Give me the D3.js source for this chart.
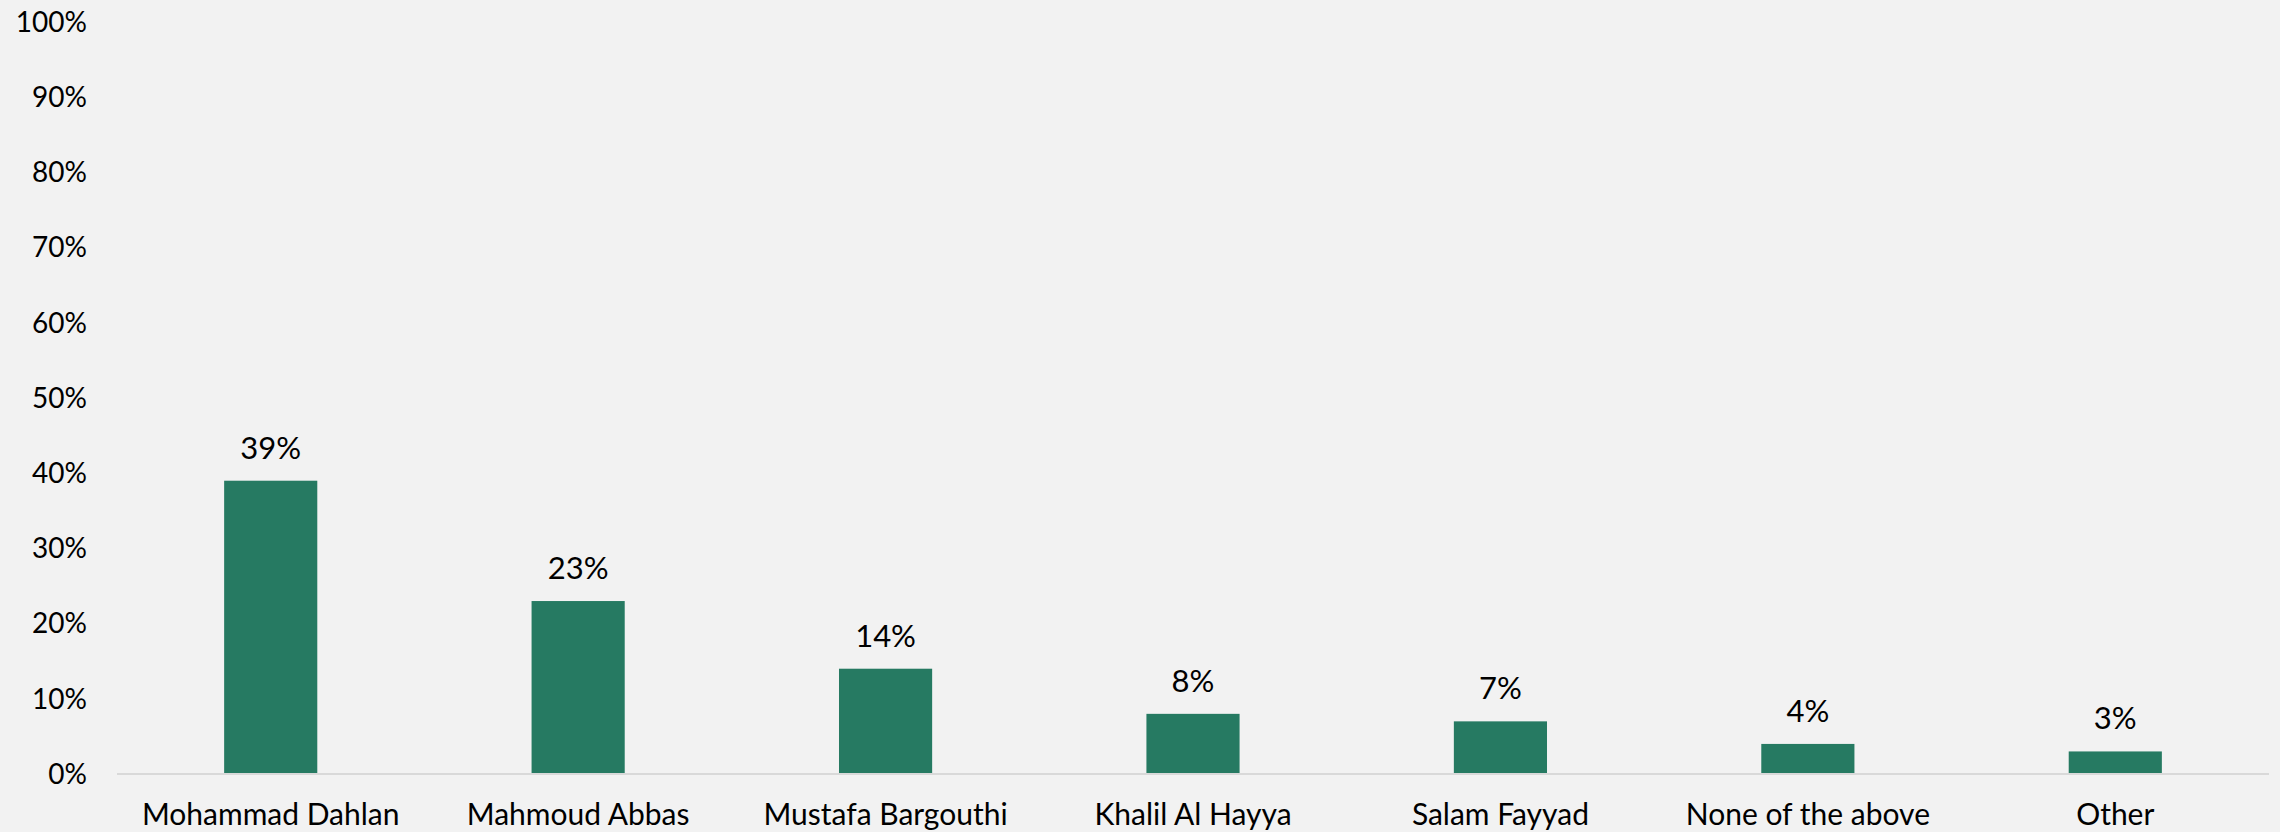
<!DOCTYPE html>
<html>
<head>
<meta charset="utf-8">
<script src="https://cdn.jsdelivr.net/npm/d3@7"></script>
<style>
  body { margin: 0; background: #f2f2f2; }
  text { font-family: Lato, "Open Sans", sans-serif; fill: #000; }
</style>
</head>
<body>
<svg id="chart" width="2280" height="832"></svg>
<script>
// chart data
const categories = ["Mohammad Dahlan", "Mahmoud Abbas", "Mustafa Bargouthi", "Khalil Al Hayya", "Salam Fayyad", "None of the above", "Other"];
const values = [39, 23, 14, 8, 7, 4, 3];
const yTicks = [0, 10, 20, 30, 40, 50, 60, 70, 80, 90, 100];

const W = 2280, H = 832;
const margin = { top: 22, right: 11, bottom: 58, left: 117 };

const svg = d3.select("#chart");
svg.append("rect").attr("width", W).attr("height", H).attr("fill", "#f2f2f2");

const x = d3.scaleBand()
  .domain(categories)
  .range([margin.left, W - margin.right])
  .paddingInner(0.697)
  .paddingOuter(0.3485);

const y = d3.scaleLinear()
  .domain([0, 100])
  .range([H - margin.bottom, margin.top]);

// y tick labels (no axis line, no gridlines)
svg.append("g")
  .selectAll("text")
  .data(yTicks)
  .join("text")
  .attr("x", 87)
  .attr("y", d => y(d))
  .attr("dy", "0.35em")
  .attr("text-anchor", "end")
  .attr("font-size", 28)
  .text(d => d + "%");

// bars
svg.append("g")
  .selectAll("rect")
  .data(values)
  .join("rect")
  .attr("x", (d, i) => x(categories[i]))
  .attr("y", d => y(d))
  .attr("width", x.bandwidth())
  .attr("height", d => y(0) - y(d))
  .attr("fill", "#267a62");

// baseline
svg.append("line")
  .attr("x1", margin.left).attr("x2", W - margin.right)
  .attr("y1", y(0)).attr("y2", y(0))
  .attr("stroke", "#d9d9d9").attr("stroke-width", 2);

// value labels
svg.append("g")
  .selectAll("text")
  .data(values)
  .join("text")
  .attr("x", (d, i) => x(categories[i]) + x.bandwidth() / 2)
  .attr("y", d => y(d) - 22)
  .attr("text-anchor", "middle")
  .attr("font-size", 31)
  .text(d => d + "%");

// category labels
svg.append("g")
  .selectAll("text")
  .data(categories)
  .join("text")
  .attr("x", d => x(d) + x.bandwidth() / 2)
  .attr("y", 825)
  .attr("text-anchor", "middle")
  .attr("font-size", 30)
  .text(d => d);
</script>
</body>
</html>
